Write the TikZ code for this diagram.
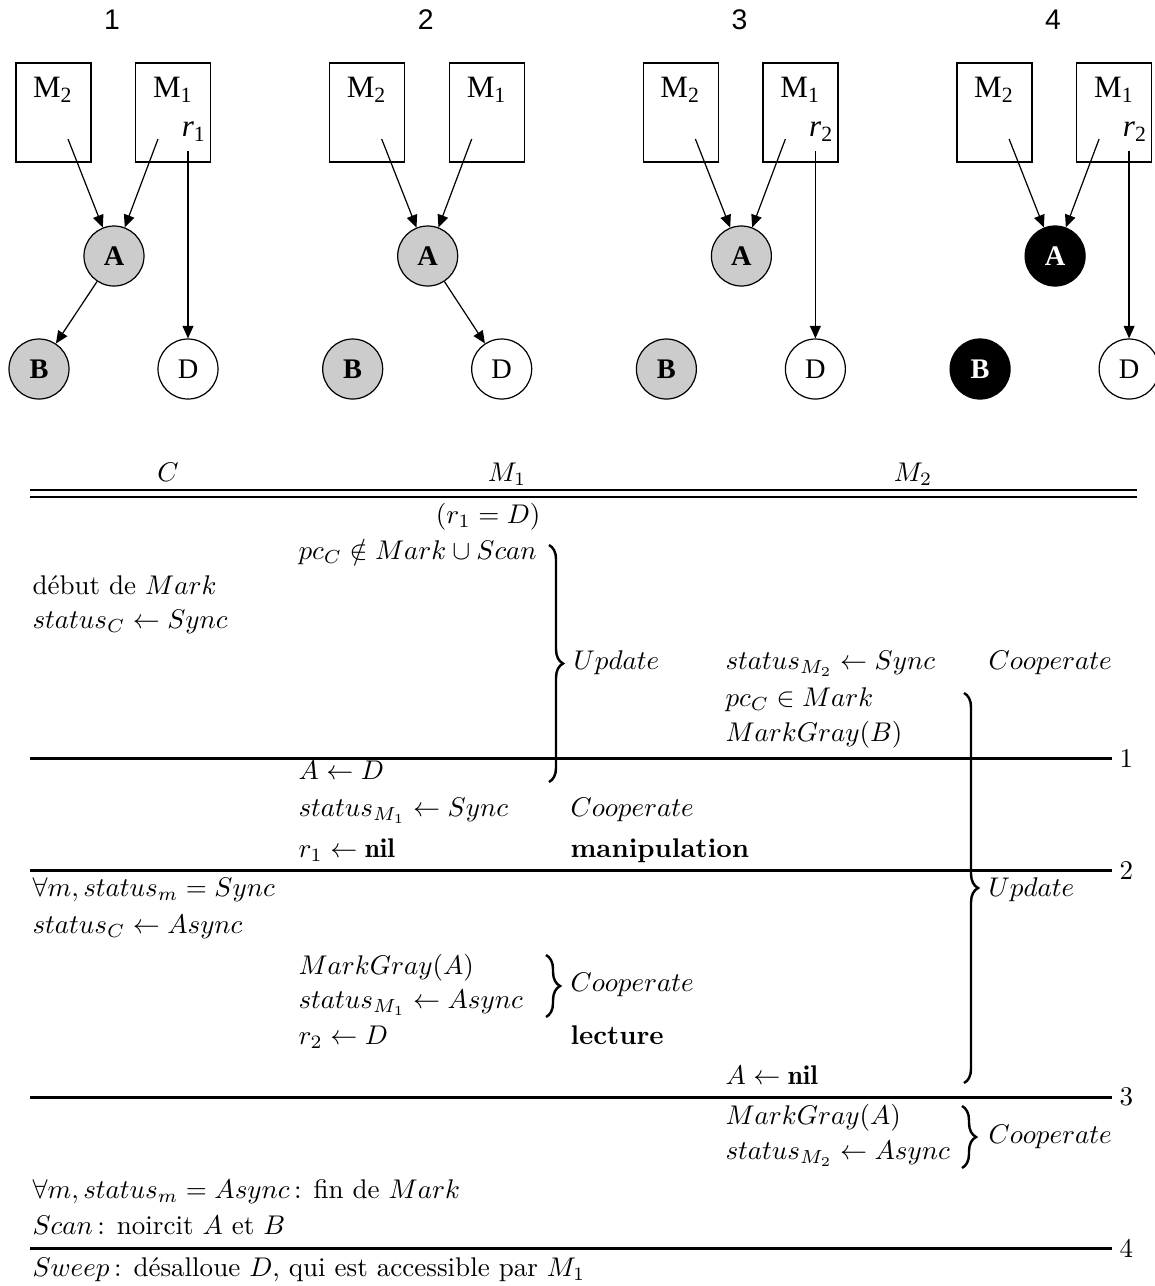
\documentclass[tikz,border=0pt]{standalone}
\usepackage{fontspec}
\newfontfamily\graphfont{Liberation Serif}
\newfontfamily\numfont{Liberation Sans}
\usetikzlibrary{arrows.meta,decorations.pathreplacing}
\begin{document}
\begin{tikzpicture}[x=0.37pt,y=-0.37pt,
  box/.style={draw, line width=0.45pt, minimum width=27.75pt, minimum height=36.6pt, inner sep=0pt},
  obj/.style={circle, draw, line width=0.45pt, minimum size=22.2pt, inner sep=0pt, font=\graphfont\bfseries\fontsize{10.5}{12}\selectfont},
  grayobj/.style={obj, fill=black!20},
  blackobj/.style={obj, fill=black, text=white},
  whiteobj/.style={obj, font=\graphfont\fontsize{10.5}{12}\selectfont},
  ptr/.style={line width=0.45pt, -{Triangle[length=4.6pt,width=4pt]}},
  glab/.style={inner sep=0pt, font=\graphfont\fontsize{11.5}{13}\selectfont},
  plab/.style={inner sep=0pt, font=\numfont\fontsize{10.5}{12}\selectfont},
  txt/.style={anchor=west, inner sep=0pt, text height=7pt, text depth=2pt},
  ctxt/.style={anchor=center, inner sep=0pt, text height=7pt, text depth=2pt},
  rulel/.style={line width=1.1pt},
  brc/.style={decorate, decoration={brace, amplitude=5.2pt}, line width=0.9pt},
  rnum/.style={anchor=west, inner sep=0pt}
]
\useasboundingbox (0,0) rectangle (1155,1286);

% ---------- graphs ----------
\foreach \k in {1,2,3,4} {
  \pgfmathsetmacro\ax{114+(\k-1)*313.7}
  \node[plab] (lab\k) at (\ax-2,20) {\k};
  \node[box] (bm2\k) at (\ax-60.5,112.5) {};
  \node[box] (bm1\k) at (\ax+59,112.5) {};
  \node[glab] (tm2\k) at (\ax-61,90) {M\textsubscript{2}};
  \node[glab] (tm1\k) at (\ax+59,90) {M\textsubscript{1}};
  \coordinate (s2\k) at (\ax-46,139);
  \coordinate (s1\k) at (\ax+44,139);
  \coordinate (rs\k) at (\ax+74,151);
}
% panel 1
\node[grayobj] (A1) at (114,256) {A};
\node[grayobj] (B1) at (39,369) {B};
\node[whiteobj] (D1) at (188,369) {D};
\node[glab] (r1) at (194,132) {\textit{r}\textsubscript{1}};
\draw[ptr] (s21) -- (A1);
\draw[ptr] (s11) -- (A1);
\draw[ptr] (A1) -- (B1);
\draw[ptr] (rs1) -- (D1);
% panel 2
\node[grayobj] (A2) at (427.7,256) {A};
\node[grayobj] (B2) at (352.7,369) {B};
\node[whiteobj] (D2) at (501.7,369) {D};
\draw[ptr] (s22) -- (A2);
\draw[ptr] (s12) -- (A2);
\draw[ptr] (A2) -- (D2);
% panel 3
\node[grayobj] (A3) at (741.4,256) {A};
\node[grayobj] (B3) at (666.4,369) {B};
\node[whiteobj] (D3) at (815.4,369) {D};
\node[glab] (r3) at (821.4,132) {\textit{r}\textsubscript{2}};
\draw[ptr] (s23) -- (A3);
\draw[ptr] (s13) -- (A3);
\draw[ptr] (rs3) -- (D3);
% panel 4
\node[blackobj] (A4) at (1055.1,256) {A};
\node[blackobj] (B4) at (980.1,369) {B};
\node[whiteobj] (D4) at (1129.1,369) {D};
\node[glab] (r4) at (1135.1,132) {\textit{r}\textsubscript{2}};
\draw[ptr] (s24) -- (A4);
\draw[ptr] (s14) -- (A4);
\draw[ptr] (rs4) -- (D4);

% ---------- table ----------
\node[ctxt] (hC) at (168,475) {$C$};
\node[ctxt] (hM1) at (507,475) {$M_1$};
\node[ctxt] (hM2) at (913,475) {$M_2$};
\draw[line width=1pt] (30,490) -- (1137,490);
\draw[line width=1pt] (30,497) -- (1137,497);

\node[txt, anchor=east] (r1D) at (541,517) {$(r_1 = D)$};
\node[txt] (pcnot) at (298,553) {$pc_C \notin Mark \cup Scan$};
\node[txt] (debut) at (32,588) {début de $Mark$};
\node[txt] (stC1) at (32,622) {$status_C \leftarrow Sync$};
\node[txt] (upd1) at (573,663) {$Update$};
\node[txt] (stM2a) at (725,663) {$status_{M_2} \leftarrow Sync$};
\node[txt] (coop1) at (988,663) {$Cooperate$};
\node[txt] (pcin) at (725,700) {$pc_C \in Mark$};
\node[txt] (mgB) at (725,735) {$MarkGray(B)$};
\node[txt] (AD) at (298,773) {$A \leftarrow D$};
\node[txt] (stM1a) at (298,810) {$status_{M_1} \leftarrow Sync$};
\node[txt] (coop2) at (570,810) {$Cooperate$};
\node[txt] (r1nil) at (298,851) {$r_1 \leftarrow \mathbf{nil}$};
\node[txt] (manip) at (570,851) {\textbf{manipulation}};
\node[txt] (allsync) at (32,890) {$\forall m, status_m = Sync$};
\node[txt] (upd2) at (988,890) {$Update$};
\node[txt] (stC2) at (32,927) {$status_C \leftarrow Async$};
\node[txt] (mgA1) at (298,968) {$MarkGray(A)$};
\node[txt] (stM1b) at (298,1002) {$status_{M_1} \leftarrow Async$};
\node[txt] (coop3) at (570,985) {$Cooperate$};
\node[txt] (r2D) at (298,1038) {$r_2 \leftarrow D$};
\node[txt] (lect) at (570,1038) {\textbf{lecture}};
\node[txt] (Anil) at (725,1078) {$A \leftarrow \mathbf{nil}$};
\node[txt] (mgA2) at (725,1118) {$MarkGray(A)$};
\node[txt] (stM2b) at (725,1153) {$status_{M_2} \leftarrow Async$};
\node[txt] (coop4) at (988,1137) {$Cooperate$};
\node[txt] (allasync) at (32,1192) {$\forall m, status_m = Async$\,: fin de $Mark$};
\node[txt] (scan) at (32,1228) {$Scan$\,: noircit $A$ et $B$};
\node[txt] (sweep) at (32,1270) {$Sweep$\,: désalloue $D$, qui est accessible par $M_1$};

% rules
\draw[rulel] (30,758) -- (1112,758);
\draw[rulel] (30,870) -- (1112,870);
\draw[rulel] (30,1097) -- (1112,1097);
\draw[rulel] (30,1248) -- (1112,1248);
\node[rnum] (n1) at (1119,758) {1};
\node[rnum] (n2) at (1119,870) {2};
\node[rnum] (n3) at (1119,1097) {3};
\node[rnum] (n4) at (1119,1248) {4};

% braces
\draw[brc] (549,545) -- (549,782);
\draw[brc] (964,693) -- (964,1083);
\draw[brc] (546,955) -- (546,1017);
\draw[brc] (962,1106) -- (962,1168);
\end{tikzpicture}
\end{document}
